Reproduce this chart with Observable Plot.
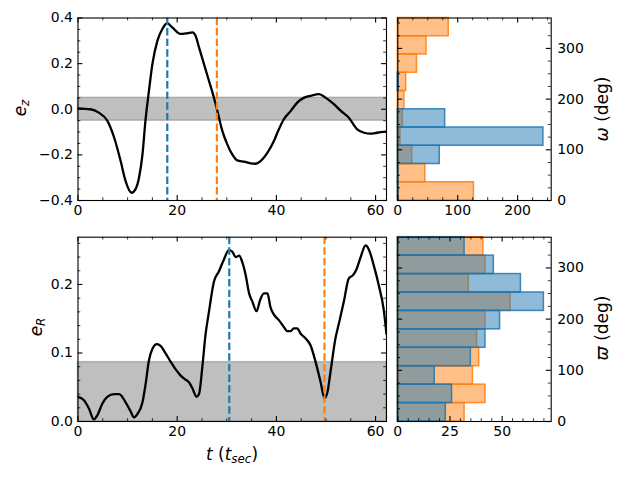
<!DOCTYPE html>
<html>
<head>
<meta charset="utf-8">
<script src="https://cdn.jsdelivr.net/npm/d3@7"></script>
<script src="https://cdn.jsdelivr.net/npm/@observablehq/plot@0.6"></script>
<style>
  html, body { margin: 0; padding: 0; background: #fff; }
  #fig { position: relative; width: 623px; height: 479px; font-family: "DejaVu Sans", sans-serif; color: #000; }
  #fig svg { position: absolute; overflow: visible; }
  .lab { position: absolute; white-space: nowrap; font-size: 17px; line-height: 1; }
  .rot { transform: translate(-50%, -50%) rotate(-90deg); }
  .hor { transform: translate(-50%, -50%); }
  .lab i { font-style: oblique; }
  .lab sub { font-size: 70%; vertical-align: -0.25em; }
</style>
</head>
<body>
<div id="fig">
  <div class="lab rot" style="left:22px; top:108px;"><i>e</i><sub><i>z</i></sub></div>
  <div class="lab rot" style="left:38px; top:327px;"><i>e</i><sub><i>R</i></sub></div>
  <div class="lab rot" style="left:602px; top:109px;"><i>ω</i> (deg)</div>
  <div class="lab rot" style="left:602px; top:328px;"><i>ϖ</i> (deg)</div>
  <div class="lab hor" style="left:232px; top:456px;"><i>t</i> (<i>t</i><sub><i>sec</i></sub>)</div>
</div>
<script>
// ---------- data ----------
const tZ = [0, 2.5, 4.2, 5.9, 7.3, 8.6, 9.6, 10.8, 11.6, 12.3, 13.0, 13.6, 14.3, 15.0, 16.0, 17.0, 18.0, 19.0, 20.7, 22.0, 23.1, 23.7, 24.4, 25.4, 26.4, 27.4, 28.1, 29.1, 30.1, 31.1, 32.1, 33.5, 34.8, 35.8, 36.8, 38.2, 39.5, 40.5, 41.5, 42.9, 44.2, 45.6, 46.9, 48.6, 49.9, 51.6, 53.0, 54.6, 56.3, 57.7, 59.0, 60.3, 62.2];
const eZ = [0.004, 0.0, -0.015, -0.05, -0.125, -0.227, -0.315, -0.366, -0.35, -0.30, -0.198, -0.05, 0.08, 0.198, 0.30, 0.352, 0.377, 0.359, 0.33, 0.333, 0.337, 0.322, 0.271, 0.198, 0.125, 0.051, -0.007, -0.095, -0.154, -0.198, -0.224, -0.23, -0.237, -0.239, -0.227, -0.19, -0.139, -0.088, -0.044, -0.007, 0.029, 0.051, 0.059, 0.066, 0.051, 0.022, -0.007, -0.037, -0.088, -0.103, -0.107, -0.103, -0.098];

const tR = [0.0, 1.2, 2.2, 3.2, 3.9, 4.9, 5.9, 7.3, 8.3, 9.6, 10.6, 11.3, 12.0, 13.0, 13.6, 14.3, 15.0, 15.9, 16.7, 17.7, 18.7, 19.7, 20.7, 21.7, 22.4, 23.1, 23.9, 24.4, 25.1, 25.7, 26.4, 27.4, 28.4, 29.4, 30.4, 31.1, 31.8, 32.5, 33.1, 33.8, 34.5, 35.1, 36.0, 36.7, 37.5, 38.2, 38.8, 39.5, 40.5, 41.5, 42.2, 42.9, 43.5, 44.2, 44.9, 45.9, 46.9, 47.9, 48.9, 49.7, 50.3, 50.9, 51.9, 52.6, 53.6, 54.6, 55.5, 56.2, 56.9, 58.0, 58.7, 59.7, 60.7, 61.6, 62.2];
const eR = [0.036, 0.031, 0.019, 0.003, 0.009, 0.026, 0.036, 0.040, 0.040, 0.028, 0.015, 0.006, 0.011, 0.028, 0.053, 0.089, 0.106, 0.113, 0.110, 0.099, 0.087, 0.076, 0.067, 0.061, 0.057, 0.048, 0.036, 0.040, 0.082, 0.126, 0.160, 0.204, 0.219, 0.236, 0.250, 0.248, 0.240, 0.242, 0.233, 0.214, 0.187, 0.176, 0.161, 0.177, 0.187, 0.187, 0.167, 0.156, 0.148, 0.138, 0.132, 0.132, 0.136, 0.136, 0.128, 0.121, 0.111, 0.087, 0.058, 0.034, 0.043, 0.072, 0.121, 0.143, 0.175, 0.209, 0.214, 0.223, 0.238, 0.257, 0.250, 0.226, 0.197, 0.165, 0.128];

const eventsZ = [18.0, 28.0];   // blue, orange
const eventsR = [30.5, 49.7];
const eventColors = ["#1f77b4", "#ff7f0e"];

const bandZ = [-0.05, 0.05];
const bandR = [0, 0.0866];

const binEdges = [0, 36, 72, 108, 144, 180, 216, 252, 288, 324, 360];
const omegaOrange = [127, 46, 24, 4.5, 8.3, 11, 14, 32, 48, 85];
const omegaBlue   = [1, 1, 70, 243, 79, 0, 1.5, 0, 0, 0];
const varpiOrange = [32, 42, 36, 39, 38, 42, 54, 34, 42, 41];
const varpiBlue   = [23, 26, 17.7, 35, 42, 49, 70, 59, 46, 32];

const xTimeMajor = [0, 20, 40, 60];
const ezMajor = [-0.4, -0.2, 0.0, 0.2, 0.4];
const erMajor = [0.0, 0.1, 0.2];
const degMajor = [0, 100, 200, 300];
const omegaCountMajor = [0, 100, 200];
const varpiCountMajor = [0, 25, 50];

const tDomain = [0, 62.2];
const ezDomain = [-0.4, 0.4];
const erDomain = [0, 0.269];
const degDomain = [0, 360];
const omegaCountDomain = [0, 256];
const varpiCountDomain = [0, 73.5];

// ---------- helpers ----------
const MAJ = 4.9, MIN = 2.8;
function minorTicks(domain, step) {
  const out = [];
  for (let v = Math.ceil(domain[0] / step - 1e-9) * step; v <= domain[1] + 1e-9; v += step) out.push(+v.toFixed(6));
  return out;
}
function inTicks(xMaj, xMin, yMaj, yMin, W, H) {
  const st = {stroke: "#000"};
  return [
    Plot.tickX(xMaj, {x: d => d, insetTop: H - MAJ, strokeWidth: 1.1, ...st}),
    Plot.tickX(xMaj, {x: d => d, insetBottom: H - MAJ, strokeWidth: 1.1, ...st}),
    Plot.tickX(xMin, {x: d => d, insetTop: H - MIN, strokeWidth: 0.8, ...st}),
    Plot.tickX(xMin, {x: d => d, insetBottom: H - MIN, strokeWidth: 0.8, ...st}),
    Plot.tickY(yMaj, {y: d => d, insetLeft: W - MAJ, strokeWidth: 1.1, ...st}),
    Plot.tickY(yMaj, {y: d => d, insetRight: W - MAJ, strokeWidth: 1.1, ...st}),
    Plot.tickY(yMin, {y: d => d, insetLeft: W - MIN, strokeWidth: 0.8, ...st}),
    Plot.tickY(yMin, {y: d => d, insetRight: W - MIN, strokeWidth: 0.8, ...st})
  ];
}
const fmt1 = d3.format(".1f");
const fmt0 = d3.format("d");
const fig = document.getElementById("fig");
function place(svg, left, top) {
  svg.style.left = left + "px";
  svg.style.top = top + "px";
  fig.appendChild(svg);
}
const common = {style: {fontFamily: "DejaVu Sans, sans-serif", fontSize: "14px", color: "#000", background: "transparent", overflow: "visible"}};

// ---------- time-series panels ----------
function timePanel({t, e, yDomain, yMajor, yMinorStep, band, events, width, height, mt, mb, ml, mr}) {
  const W = width - ml - mr, H = height - mt - mb;
  const pts = t.map((d, i) => ({t: d, e: e[i]}));
  return Plot.plot({
    ...common,
    width, height, marginTop: mt, marginBottom: mb, marginLeft: ml, marginRight: mr,
    x: {domain: tDomain},
    y: {domain: yDomain},
    marks: [
      Plot.rect([band], {x1: tDomain[0], x2: tDomain[1], y1: d => d[0], y2: d => d[1], fill: "#808080", fillOpacity: 0.5, stroke: "#808080", strokeOpacity: 0.5, strokeWidth: 1.5}),
      Plot.line(pts, {x: "t", y: "e", stroke: "#000", strokeWidth: 2.3, curve: "monotone-x", clip: true}),
      Plot.ruleX(events, {x: d => d, stroke: (d, i) => eventColors[i], strokeWidth: 2.2, strokeDasharray: "7.4,3.2"}),
      ...inTicks(xTimeMajor, minorTicks(tDomain, 5).filter(v => v % 20 !== 0), yMajor,
                 minorTicks(yDomain, yMinorStep).filter(v => !yMajor.some(m => Math.abs(m - v) < 1e-6)), W, H),
      Plot.axisX(xTimeMajor, {tickSize: 0, tickPadding: 5, tickFormat: fmt0, fontSize: 14, label: null}),
      Plot.axisY(yMajor, {tickSize: 0, tickPadding: 5, tickFormat: fmt1, fontSize: 14, label: null}),
      Plot.frame({stroke: "#000", strokeWidth: 1.1})
    ]
  });
}

// ---------- histogram panels ----------
function histPanel({orange, blue, xDomain, xMajor, xMinorStep, width, height, mt, mb, ml, mr}) {
  const W = width - ml - mr, H = height - mt - mb;
  const bins = (vals) => vals.map((v, i) => ({n: v, lo: binEdges[i], hi: binEdges[i + 1]}));
  return Plot.plot({
    ...common,
    width, height, marginTop: mt, marginBottom: mb, marginLeft: ml, marginRight: mr,
    x: {domain: xDomain},
    y: {domain: degDomain},
    marks: [
      Plot.rectX(bins(orange).filter(d => d.n > 0), {x1: 0, x2: "n", y1: "lo", y2: "hi", fill: "#ff7f0e", fillOpacity: 0.5, stroke: "#ff7f0e", strokeOpacity: 0.85, strokeWidth: 1.5}),
      Plot.rectX(bins(blue).filter(d => d.n > 0), {x1: 0, x2: "n", y1: "lo", y2: "hi", fill: "#1f77b4", fillOpacity: 0.5, stroke: "#1f77b4", strokeOpacity: 0.85, strokeWidth: 1.5}),
      ...inTicks(xMajor, minorTicks(xDomain, xMinorStep).filter(v => !xMajor.includes(v)), degMajor,
                 minorTicks(degDomain, 25).filter(v => !degMajor.includes(v)), W, H),
      Plot.axisX(xMajor, {tickSize: 0, tickPadding: 5, tickFormat: fmt0, fontSize: 14, label: null}),
      Plot.axisY(degMajor, {anchor: "right", tickSize: 0, tickPadding: 6, tickFormat: fmt0, fontSize: 14, label: null}),
      Plot.frame({stroke: "#000", strokeWidth: 1.1})
    ]
  });
}

place(timePanel({t: tZ, e: eZ, yDomain: ezDomain, yMajor: ezMajor, yMinorStep: 0.05, band: bandZ, events: eventsZ,
  width: 392, height: 222, mt: 17.5, mb: 22, ml: 77.5, mr: 6}), 0, 0);
place(histPanel({orange: omegaOrange, blue: omegaBlue, xDomain: omegaCountDomain, xMajor: omegaCountMajor, xMinorStep: 25,
  width: 231, height: 222, mt: 17.5, mb: 22, ml: 5.3, mr: 72.3}), 392, 0);
place(timePanel({t: tR, e: eR, yDomain: erDomain, yMajor: erMajor, yMinorStep: 0.02, band: bandR, events: eventsR,
  width: 392, height: 254, mt: 11.7, mb: 58, ml: 77.5, mr: 6}), 0, 225);
place(histPanel({orange: varpiOrange, blue: varpiBlue, xDomain: varpiCountDomain, xMajor: varpiCountMajor, xMinorStep: 5,
  width: 231, height: 254, mt: 11.7, mb: 58, ml: 5.3, mr: 72.3}), 392, 225);
</script>
</body>
</html>
